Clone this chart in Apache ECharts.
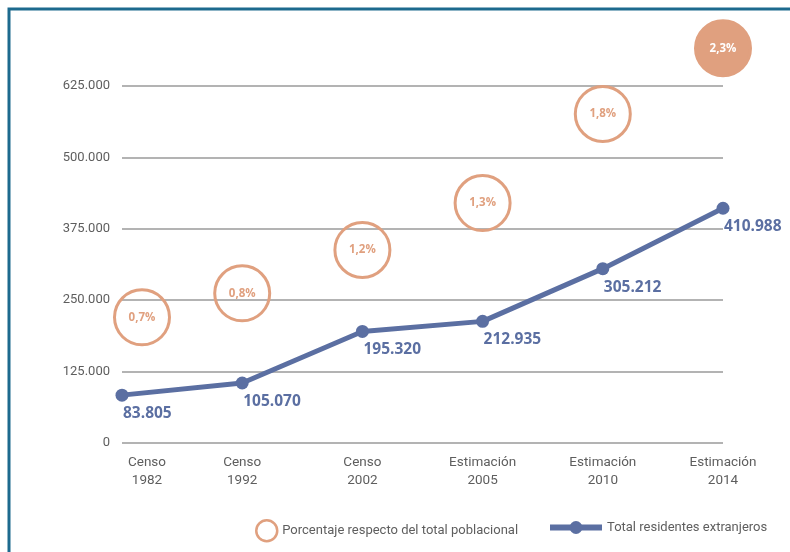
<!DOCTYPE html>
<html>
<head>
<meta charset="utf-8">
<script src="https://cdn.jsdelivr.net/npm/echarts@6/dist/echarts.min.js"></script>
<style>
  html, body { margin: 0; padding: 0; background: #fff; }
  #chart { width: 790px; height: 552px; }
</style>
</head>
<body>
<div id="chart"></div>
<script>
// Categories along the horizontal axis
const categories = ['Censo\n1982', 'Censo\n1992', 'Censo\n2002', 'Estimación\n2005', 'Estimación\n2010', 'Estimación\n2014'];
// Total foreign residents
const residentes = [83805, 105070, 195320, 212935, 305212, 410988];
// Share of total population (%)
const porcentajes = [0.7, 0.8, 1.2, 1.3, 1.8, 2.3];
// Vertical level at which each percentage bubble sits
const nivelBurbuja = [220000, 262000, 338000, 420000, 576000, 691000];
// Value axis range
const yMax = 625000;
const yStep = 125000;

const azul = '#5b6fa2';
const salmon = '#e0a07f';
const gris = '#5e5e5e';
const fuente = 'Roboto, sans-serif';

function miles(v) {
  return String(v).replace(/\B(?=(\d{3})+(?!\d))/g, '.');
}
function pct(v) {
  return v.toFixed(1).replace('.', ',') + '%';
}

const chart = echarts.init(document.getElementById('chart'), null, { renderer: 'canvas' });

const burbujas = nivelBurbuja.map(function (y, i) {
  const last = i === porcentajes.length - 1;
  return {
    value: [i, y],
    pct: porcentajes[i],
    symbolOffset: i === 0 ? [20, 0] : [0, 0],
    itemStyle: last ? { color: salmon, borderColor: salmon } : undefined,
    label: last ? { color: '#ffffff' } : undefined
  };
});

chart.setOption({
  animation: false,
  backgroundColor: '#ffffff',
  graphic: [{
    type: 'rect',
    shape: { x: 9, y: 9, width: 900, height: 700 },
    style: { fill: 'none', stroke: '#1d6a8e', lineWidth: 3 },
    z: 100
  }],
  grid: { left: 122, right: 67, top: 86, bottom: 109 },
  xAxis: {
    type: 'category',
    data: categories,
    boundaryGap: false,
    axisLine: { show: false },
    axisTick: { show: false },
    axisLabel: {
      margin: 11,
      color: gris,
      fontFamily: fuente,
      fontSize: 13.5,
      lineHeight: 18,
      formatter: function (v, i) {
        return i === 0 ? '{first|' + v + '}' : v;
      },
      rich: {
        first: {
          color: gris,
          fontFamily: fuente,
          fontSize: 13.5,
          lineHeight: 18,
          padding: [0, 0, 0, 50]
        }
      }
    }
  },
  yAxis: {
    type: 'value',
    min: 0,
    max: yMax,
    interval: yStep,
    axisLine: { show: false },
    axisTick: { show: false },
    axisLabel: {
      margin: 12,
      color: gris,
      fontFamily: fuente,
      fontSize: 13,
      formatter: miles
    },
    splitLine: { lineStyle: { color: '#9a9a9a', width: 1.5 } }
  },
  legend: [{
    data: ['Porcentaje respecto del total poblacional'],
    left: 250,
    top: 514,
    itemWidth: 21,
    itemHeight: 21,
    itemStyle: { borderWidth: 2.5 },
    textStyle: { color: gris, fontSize: 13, fontFamily: fuente }
  }, {
    data: ['Total residentes extranjeros'],
    left: 542,
    top: 516,
    itemWidth: 52,
    itemHeight: 16,
    lineStyle: { width: 6 },
    textStyle: { color: gris, fontSize: 13, fontFamily: fuente }
  }],
  series: [{
    name: 'Porcentaje respecto del total poblacional',
    type: 'scatter',
    clip: false,
    symbol: 'circle',
    symbolSize: 55,
    data: burbujas,
    itemStyle: { color: 'rgba(255,255,255,0)', borderColor: salmon, borderWidth: 3, opacity: 1 },
    label: {
      show: true,
      position: 'inside',
      color: salmon,
      fontWeight: 'bold',
      fontSize: 11.5,
      fontFamily: 'Open Sans, sans-serif',
      formatter: function (p) { return pct(p.data.pct); }
    },
    z: 3
  }, {
    name: 'Total residentes extranjeros',
    type: 'line',
    data: residentes,
    symbol: 'circle',
    symbolSize: 13,
    lineStyle: { color: azul, width: 5 },
    itemStyle: { color: azul },
    label: {
      show: true,
      position: 'bottom',
      align: 'left',
      distance: 4,
      offset: [1, 0],
      color: azul,
      fontWeight: 'bold',
      fontSize: 15.5,
      fontFamily: 'Open Sans, sans-serif',
      formatter: function (p) { return miles(p.value); }
    },
    z: 4
  }]
});
</script>
</body>
</html>
